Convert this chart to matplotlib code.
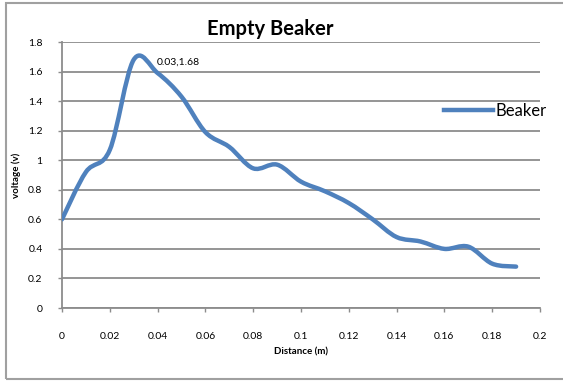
import numpy as np
import matplotlib
matplotlib.use("Agg")
import matplotlib.pyplot as plt
from matplotlib.patches import Rectangle
from matplotlib.path import Path
from matplotlib.patches import PathPatch
from matplotlib.lines import Line2D

plt.rcParams['font.family'] = ['Lato', 'DejaVu Sans']

distance = [0.00, 0.01, 0.02, 0.03, 0.04, 0.05, 0.06, 0.07, 0.08, 0.09,
            0.10, 0.11, 0.12, 0.13, 0.14, 0.15, 0.16, 0.17, 0.18, 0.19]
voltage = [0.60, 0.92, 1.07, 1.68, 1.59, 1.43, 1.19, 1.09, 0.945, 0.97,
           0.855, 0.79, 0.71, 0.60, 0.48, 0.45, 0.40, 0.415, 0.30, 0.28]
series_name = "Beaker"
peak_label = "0.03,1.68"
x_ticks = [0, 0.02, 0.04, 0.06, 0.08, 0.1, 0.12, 0.14, 0.16, 0.18, 0.2]
x_tick_labels = ["0", "0.02", "0.04", "0.06", "0.08", "0.1", "0.12", "0.14", "0.16", "0.18", "0.2"]
y_ticks = [0, 0.2, 0.4, 0.6, 0.8, 1.0, 1.2, 1.4, 1.6, 1.8]
y_tick_labels = ["0", "0.2", "0.4", "0.6", "0.8", "1", "1.2", "1.4", "1.6", "1.8"]

LINE_BLUE = "#4F81BD"
GRID_GRAY = "#8C8C8C"

W, H = 563, 381
fig = plt.figure(figsize=(W / 100, H / 100), dpi=100)
ax = fig.add_axes([62 / W, 1 - 308 / H, (540 - 62) / W, (308 - 42) / H])


def smooth_bezier_path(xs, ys):
    """Cardinal (Catmull-Rom) Bezier smoothing through every point."""
    pts = np.column_stack([xs, ys]).astype(float)
    n = len(pts)
    verts = [pts[0]]
    codes = [Path.MOVETO]
    for i in range(n - 1):
        p0 = pts[i - 1] if i > 0 else pts[i]
        p1 = pts[i]
        p2 = pts[i + 1]
        p3 = pts[i + 2] if i + 2 < n else pts[i + 1]
        c1 = p1 + (p2 - p0) / 6.0
        c2 = p2 - (p3 - p1) / 6.0
        verts += [c1, c2, p2]
        codes += [Path.CURVE4] * 3
    return Path(verts, codes)


path = smooth_bezier_path(distance, voltage)
ax.add_patch(PathPatch(path, facecolor="none", edgecolor=LINE_BLUE, lw=3.2,
                       capstyle="round", joinstyle="round", zorder=3))

ax.set_xlim(0, 0.2)
ax.set_ylim(0, 1.8)
ax.set_xticks(x_ticks)
ax.set_xticklabels(x_tick_labels)
ax.set_yticks(y_ticks)
ax.set_yticklabels(y_tick_labels)
ax.grid(axis="y", color=GRID_GRAY, lw=1.3)
ax.set_axisbelow(True)
for side in ("top", "right"):
    ax.spines[side].set_visible(False)
for side in ("left", "bottom"):
    ax.spines[side].set_color(GRID_GRAY)
    ax.spines[side].set_linewidth(1.3)
ax.tick_params(axis="x", direction="out", length=3, width=1, color=GRID_GRAY,
               labelsize=7.5, pad=14)
ax.tick_params(axis="y", direction="out", length=3, width=1, color=GRID_GRAY,
               labelsize=7.5, pad=11)

ax.set_xlabel("Distance (m)", fontsize=7, fontweight="bold", labelpad=5)
ax.set_ylabel("voltage (v)", fontsize=7, fontweight="bold", labelpad=5)
fig.text(270 / W, 1 - 29 / H, "Empty Beaker", fontsize=14.5, fontweight="bold",
         ha="center", va="center")

ax.annotate(peak_label, xy=(distance[3], voltage[3]), xytext=(23, -2),
            textcoords="offset pixels", fontsize=7.5, ha="left", va="center")

handle = Line2D([], [], color=LINE_BLUE, lw=3.2)
fig.legend([handle], [series_name], loc="center left",
           bbox_to_anchor=(436 / W, 1 - 111 / H), frameon=False,
           fontsize=12, handlelength=2.9, handletextpad=0.15, borderpad=0)

# chart border
fig.patches.append(Rectangle((6 / W, 2 / H), 600 / W, (378 - 2) / H,
                             transform=fig.transFigure, fill=False,
                             edgecolor="#A0A0A0", lw=1.5))

fig.savefig("out.png", dpi=100)
